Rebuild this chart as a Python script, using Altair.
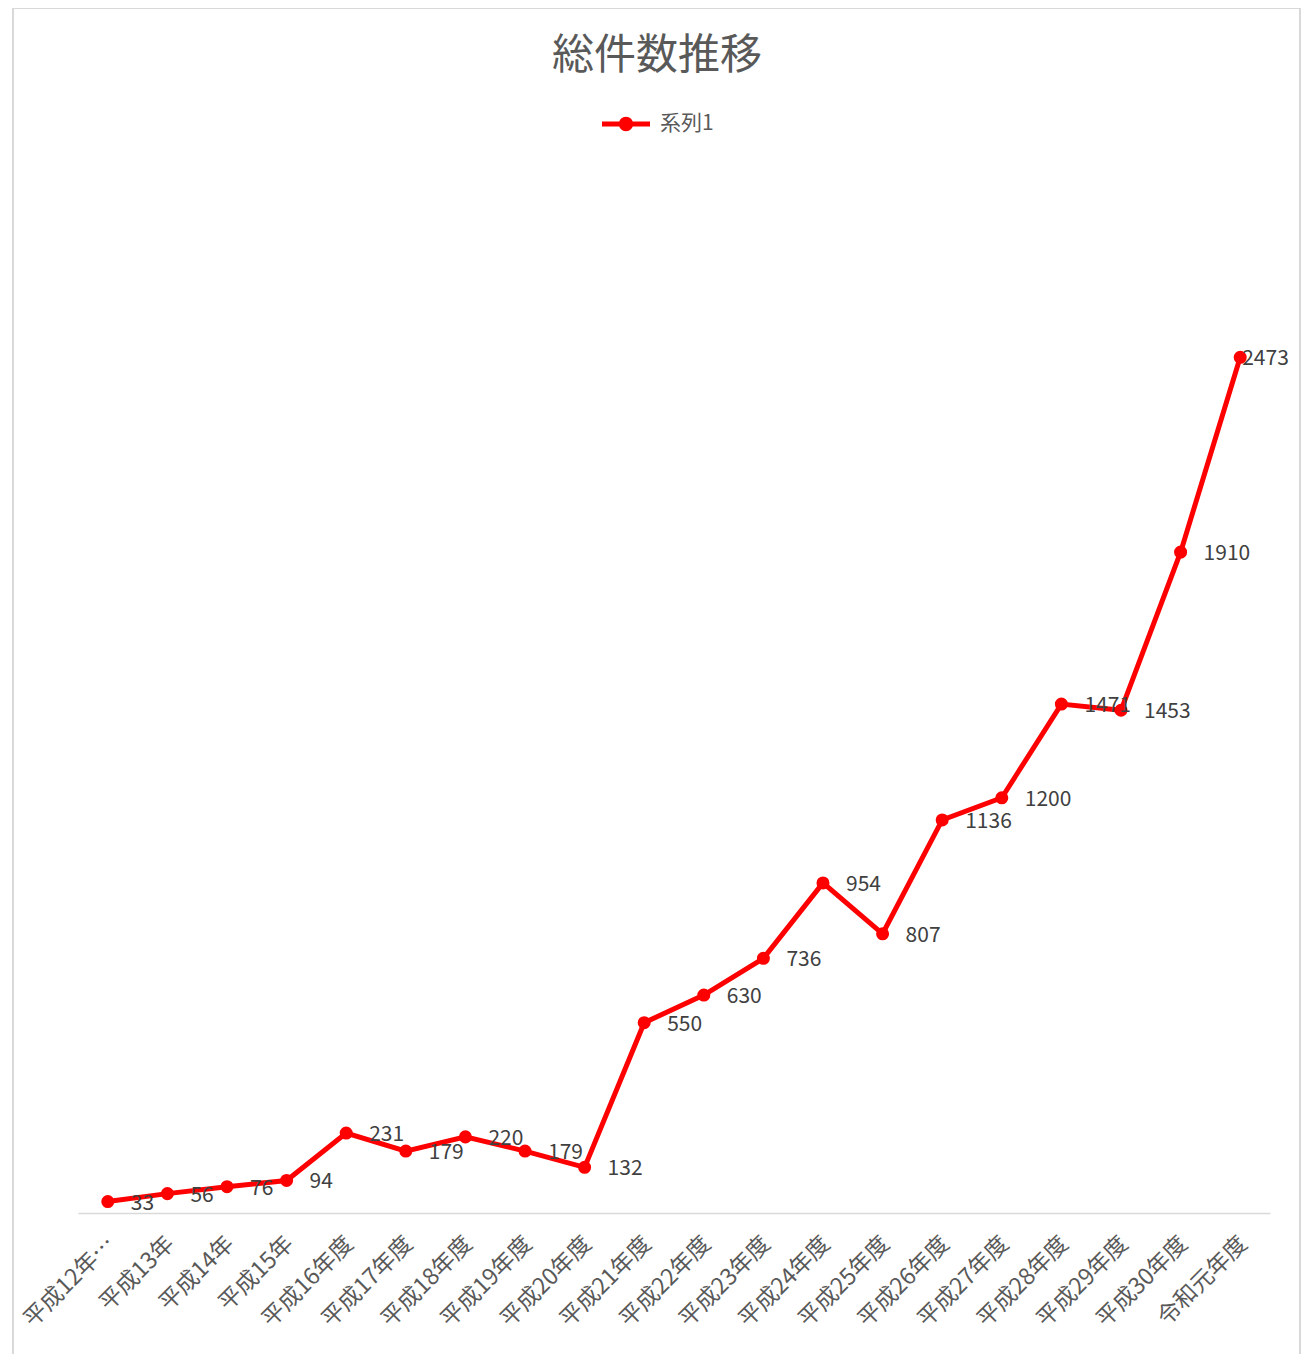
import altair as alt
import pandas as pd

categories = ["平成12年…", "平成13年", "平成14年", "平成15年", "平成16年度", "平成17年度",
              "平成18年度", "平成19年度", "平成20年度", "平成21年度", "平成22年度", "平成23年度",
              "平成24年度", "平成25年度", "平成26年度", "平成27年度", "平成28年度", "平成29年度",
              "平成30年度", "令和元年度"]
values = [33, 56, 76, 94, 231, 179, 220, 179, 132, 550, 630, 736, 954, 807, 1136, 1200,
          1471, 1453, 1910, 2473]
series = ["系列1"] * len(values)
title_text = ["総件数推移"]

df = pd.DataFrame({"cat": categories, "v": values, "s": series})

FONT = "Noto Sans CJK JP"
RED = "#FF0000"

x = alt.X("cat:N", sort=categories, scale=alt.Scale(type="point", padding=0.5),
          axis=alt.Axis(title=None, domainColor="#d9d9d9", domainWidth=1.5, ticks=False,
                        labelColor="#595959", labelFontSize=23, labelAngle=-45,
                        labelPadding=19, labelOffset=-5, labelLimit=0, labelFont=FONT))
y = alt.Y("v:Q", scale=alt.Scale(domain=[0, 3000], nice=False, zero=True), axis=None)

legend_path = ("M-1,-0.1 L1,-0.1 L1,0.1 L-1,0.1 Z "
               "M0.3,0 A0.3,0.3 0 1,1 -0.3,0 A0.3,0.3 0 1,1 0.3,0 Z")

base = alt.Chart(df)

line = base.mark_line(color=RED, strokeWidth=5).encode(x=x, y=y)
pts = base.mark_point(filled=True, size=170, opacity=1).encode(
    x=x, y=y,
    color=alt.Color("s:N", scale=alt.Scale(domain=["系列1"], range=[RED]),
                    legend=alt.Legend(orient="none", legendX=524, legendY=-75, title=None,
                                      symbolType=legend_path, symbolSize=2304,
                                      symbolStrokeWidth=0, labelFontSize=21,
                                      labelColor="#595959", labelOffset=10, labelFont=FONT)))
labels = base.transform_filter(alt.datum.cat != categories[-1]).mark_text(
    align="left", baseline="middle", dx=23, dy=2, fontSize=21, color="#404040", font=FONT
).encode(x=x, y=y, text="v:Q")
last_label = base.transform_filter(alt.datum.cat == categories[-1]).mark_text(
    align="left", baseline="middle", dx=2, dy=2, fontSize=21, color="#404040", font=FONT
).encode(x=x, y=y, text="v:Q")

border = alt.Chart(pd.DataFrame({"a": [0]})).mark_rect(
    fill="transparent", stroke="#d9d9d9", strokeWidth=2
).encode(x=alt.value(-65), x2=alt.value(1222), y=alt.value(-167), y2=alt.value(1220))

title = alt.Chart(pd.DataFrame({"t": title_text})).mark_text(
    fontSize=42, color="#595959", fontWeight="normal", font=FONT, align="center",
    baseline="middle"
).encode(x=alt.value(579), y=alt.value(-119), text="t:N")

chart = alt.layer(border, line, pts, labels, last_label, title).properties(
    width=1192, height=1038,
    autosize=alt.AutoSizeParams(type="none"),
    padding={"left": 70, "top": 167, "right": 34, "bottom": 149},
).configure(font=FONT).configure_view(stroke=None, strokeWidth=0)

chart.save("out.html", embed_options={"renderer": "svg", "actions": False})
